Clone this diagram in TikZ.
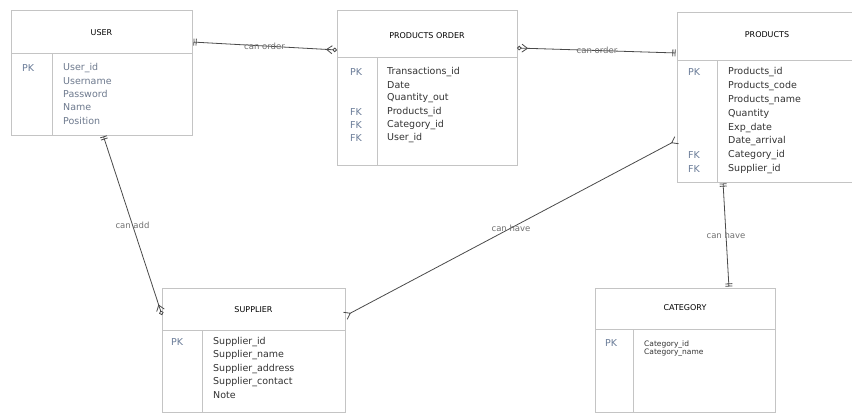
\documentclass[tikz,border=0pt]{standalone}
\usepackage{fontspec}
\setmainfont{DejaVu Sans}
\usetikzlibrary{arrows.meta,calc}
\definecolor{boxline}{HTML}{C4C4C4}
\definecolor{conn}{HTML}{4A4A4A}
\definecolor{keyc}{HTML}{6A7C98}
\definecolor{fieldc}{HTML}{333333}
\definecolor{userf}{HTML}{6E7A8E}
\definecolor{lblc}{HTML}{707070}
\tikzset{
  onetip/.tip={Bar[width=7pt,line width=0.8pt,sep=1.5pt] Bar[width=7pt,line width=0.8pt,sep=1.5pt]},
  manytip/.tip={Straight Barb[reversed,length=5.5pt,width=8pt,line width=0.8pt]},
  zmanytip/.tip={Straight Barb[reversed,length=5.5pt,width=8pt,line width=0.8pt] Circle[open,length=4.5pt,width=4.5pt,line width=0.8pt,fill=white]}
}
\begin{document}
\begin{tikzpicture}[x=1pt,y=-1pt,
  entity/.style={draw=boxline,line width=0.9pt,anchor=north west,inner sep=0pt,outer sep=0pt},
  divider/.style={draw=boxline,line width=0.9pt},
  title/.style={font=\fontsize{8}{9}\selectfont,text=black,inner sep=0pt},
  keylbl/.style={font=\fontsize{9.5}{10}\selectfont,text=keyc,anchor=west,inner sep=0pt},
  field/.style={font=\fontsize{9.5}{10}\selectfont,text=fieldc,anchor=west,inner sep=0pt},
  smallfield/.style={font=\fontsize{7.5}{8}\selectfont,text=fieldc,anchor=west,inner sep=0pt},
  rel/.style={draw=conn,line width=0.8pt},
  relabel/.style={font=\fontsize{8.5}{9}\selectfont,text=lblc,inner sep=0.5pt}]
\useasboundingbox (0,0) rectangle (852,415);
\fill[white] (0,0) rectangle (852,415);

% ---------- USER ----------
\node[entity,minimum width=181pt,minimum height=125pt] (user) at (11,10) {};
\draw[divider] (user.west |- 0,53) -- (user.east |- 0,53);
\draw[divider] (52,53) -- (user.south -| 52,0);
\node[title] (usert) at ($(user.north)+(0,23)$) {USER};
\node[keylbl] (userpk) at (22,68) {PK};
\foreach \t [count=\i] in {User\_id,Username,Password,Name,Position}
  \node[field,text=userf] (uf\i) at (63,{68+13.2*(\i-1)}) {\t};

% ---------- PRODUCTS ORDER ----------
\node[entity,minimum width=180pt,minimum height=155pt] (po) at (337,10) {};
\draw[divider] (po.west |- 0,57) -- (po.east |- 0,57);
\draw[divider] (377,57) -- (po.south -| 377,0);
\node[title] (pot) at ($(po.north)+(0,26)$) {PRODUCTS ORDER};
\node[keylbl] (popk) at (350,72) {PK};
\node[keylbl] (pofk1) at (350,111.6) {FK};
\node[keylbl] (pofk2) at (350,124.8) {FK};
\node[keylbl] (pofk3) at (350,138) {FK};
\foreach \t [count=\i] in {Transactions\_id,Date,Quantity\_out,Products\_id,Category\_id,User\_id}
  \node[field] (pf\i) at (387,{72+13.2*(\i-1)}) {\t};

% ---------- PRODUCTS ----------
\node[entity,minimum width=180pt,minimum height=170pt] (products) at (677,12) {};
\draw[divider] (products.west |- 0,60) -- (products.east |- 0,60);
\draw[divider] (717,60) -- (products.south -| 717,0);
\node[title] (prt) at ($(products.north west)+(90,23)$) {PRODUCTS};
\node[keylbl] (prpk) at (688,72) {PK};
\node[keylbl] (prfk1) at (688,155.4) {FK};
\node[keylbl] (prfk2) at (688,169.3) {FK};
\foreach \t [count=\i] in {Products\_id,Products\_code,Products\_name,Quantity,Exp\_date,Date\_arrival,Category\_id,Supplier\_id}
  \node[field] (rf\i) at (728,{72+13.9*(\i-1)}) {\t};

% ---------- SUPPLIER ----------
\node[entity,minimum width=183pt,minimum height=124pt] (supplier) at (162,288) {};
\draw[divider] (supplier.west |- 0,330) -- (supplier.east |- 0,330);
\draw[divider] (202,330) -- (supplier.south -| 202,0);
\node[title] (supt) at ($(supplier.north)+(0,22)$) {SUPPLIER};
\node[keylbl] (suppk) at (171,342) {PK};
\foreach \t [count=\i] in {Supplier\_id,Supplier\_name,Supplier\_address,Supplier\_contact,Note}
  \node[field] (sf\i) at (213,{342+13.3*(\i-1)}) {\t};

% ---------- CATEGORY ----------
\node[entity,minimum width=180pt,minimum height=124pt] (category) at (595,288) {};
\draw[divider] (category.west |- 0,329) -- (category.east |- 0,329);
\draw[divider] (633,329) -- (category.south -| 633,0);
\node[title] (catt) at ($(category.north)+(0,20)$) {CATEGORY};
\node[keylbl] (catpk) at (605,343) {PK};
\node[smallfield] (cf1) at (644,344.5) {Category\_id};
\node[smallfield] (cf2) at (644,353) {Category\_name};

% ---------- Relationships ----------
\draw[rel,{onetip}-{zmanytip}] ($(user.north east)+(0,32)$) -- node[relabel] (l1) {can order} ($(po.north west)+(0,40)$);
\draw[rel,{zmanytip}-{onetip}] ($(po.north east)+(0,38)$) -- node[relabel] (l2) {can order} ($(products.north west)+(0,41)$);
\draw[rel,{onetip}-{zmanytip}] ($(user.south west)+(92,0)$) -- node[relabel] (l3) {can add} ($(supplier.north west)+(0,27)$);
\draw[rel,{manytip}-{manytip}] ($(supplier.north east)+(0,28)$) -- node[relabel] (l4) {can have} ($(products.north west)+(0,128)$);
\draw[rel,{onetip}-{onetip}] ($(products.south west)+(46,0)$) -- node[relabel] (l5) {can have} ($(category.north west)+(134,0)$);
\end{tikzpicture}
\end{document}
